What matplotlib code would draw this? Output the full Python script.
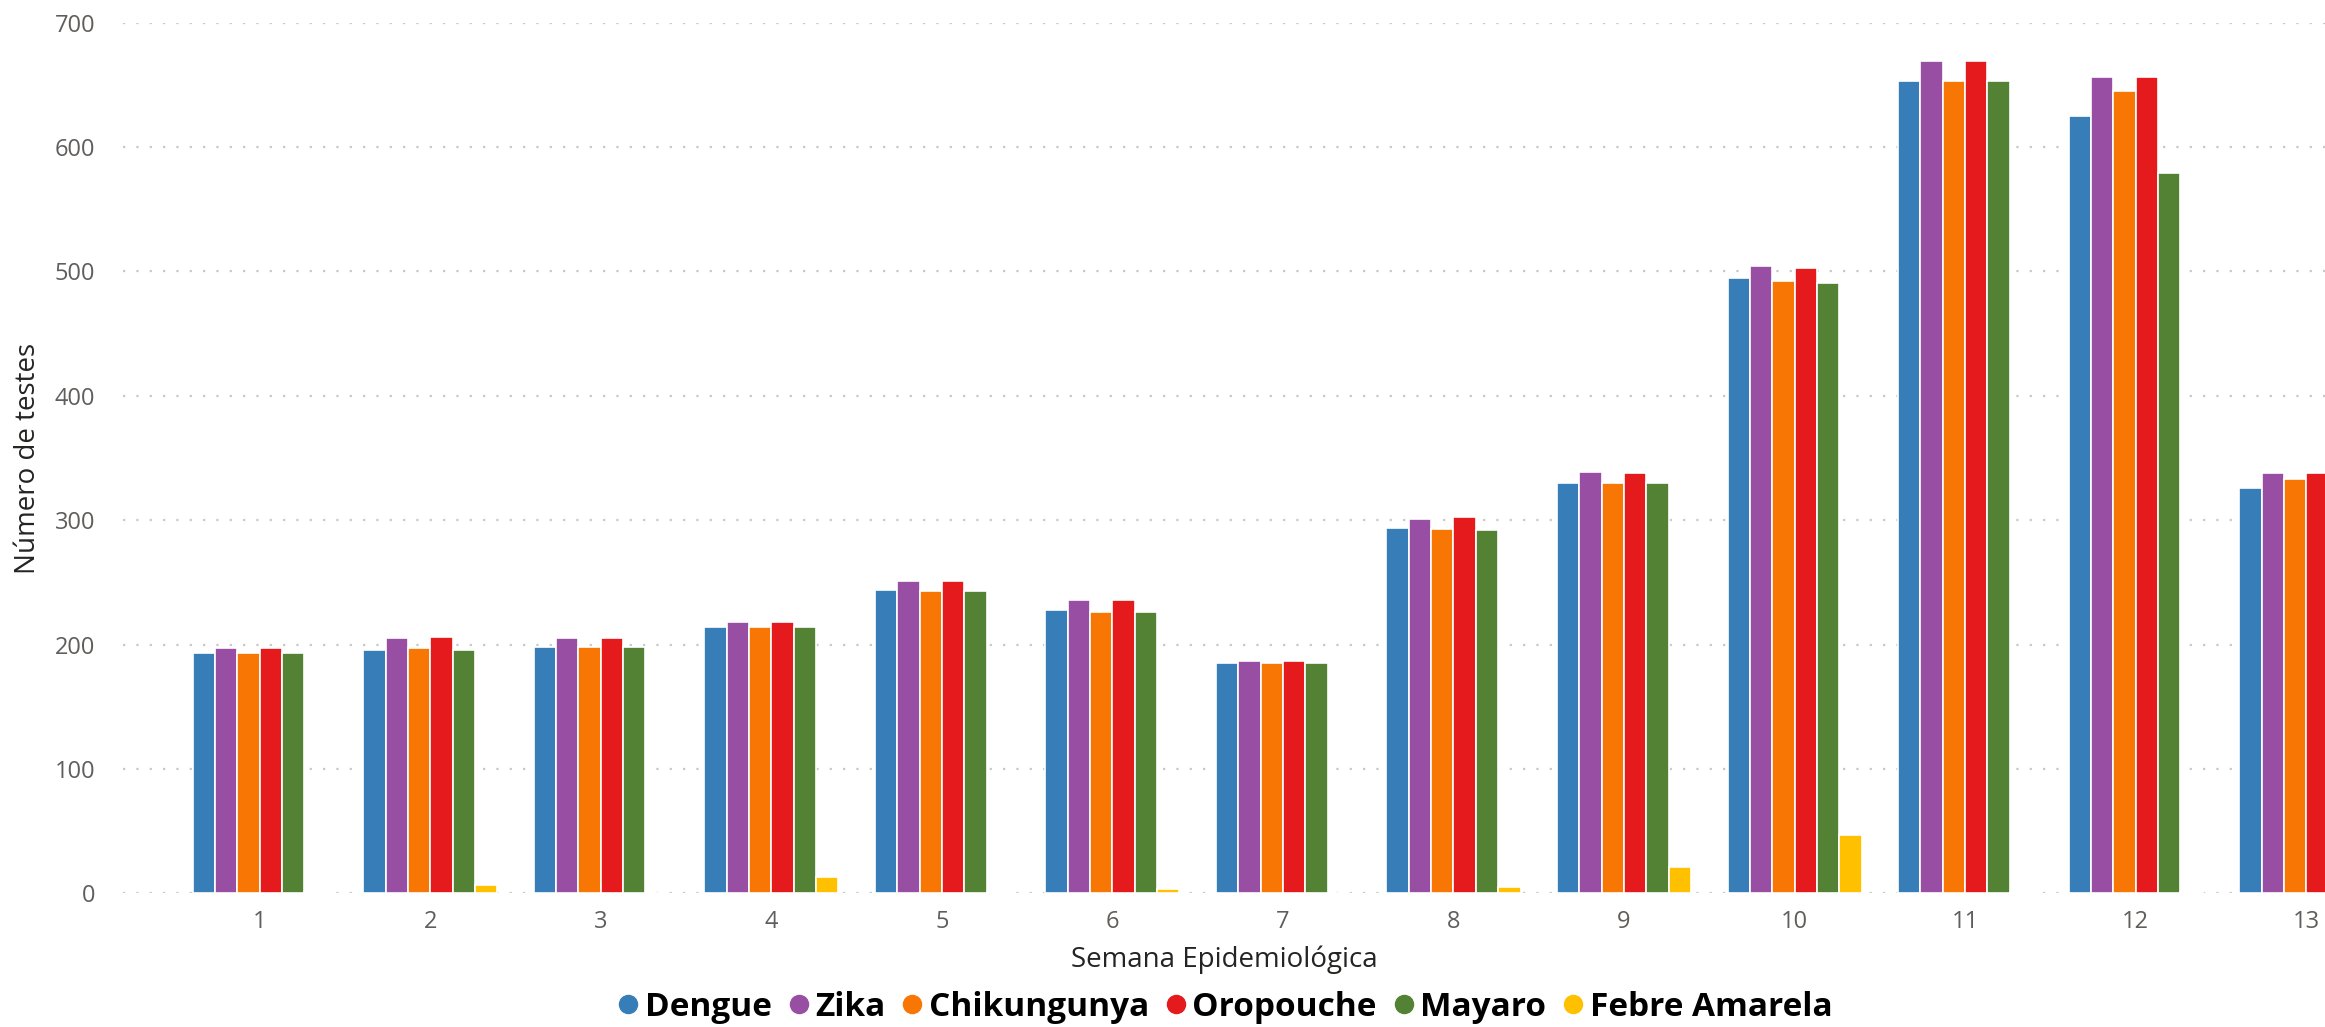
import numpy as np
import matplotlib.pyplot as plt
from matplotlib.lines import Line2D

plt.rcParams['font.family'] = ['Open Sans', 'DejaVu Sans']

weeks = list(range(1, 14))
series = ['Dengue', 'Zika', 'Chikungunya', 'Oropouche', 'Mayaro', 'Febre Amarela']
colors = ['#377eb8', '#984ea3', '#f87604', '#e41a1c', '#548235', '#ffc000']

dengue = [193, 196, 198, 214, 244, 228, 185, 294, 330, 495, 653, 625, 326]
zika = [197, 205, 205, 218, 251, 236, 187, 301, 339, 504, 669, 656, 338]
chikungunya = [193, 197, 198, 214, 243, 226, 185, 293, 330, 492, 653, 645, 333]
oropouche = [197, 206, 205, 218, 251, 236, 187, 303, 338, 503, 669, 656, 338]
mayaro = [193, 196, 198, 214, 243, 226, 185, 292, 330, 491, 653, 579, 326]
febre_amarela = [1, 7, 0, 13, 1, 4, 0, 5, 21, 47, 1, 1, 0]

values = [dengue, zika, chikungunya, oropouche, mayaro, febre_amarela]

fig = plt.figure(figsize=(23.25, 10.27), dpi=100)
ax = fig.add_axes([0.053, 0.130, 0.947, 0.848])

w = 0.131
x = np.array(weeks)
for i, (name, vals, c) in enumerate(zip(series, values, colors)):
    ax.bar(x + (i - 2.5) * w, vals, width=w, color=c, edgecolor='white',
           linewidth=1.2, label=name, zorder=3)

ax.set_xlim(0.2, 13.11)
ax.set_ylim(0, 700)
ax.set_yticks(range(0, 701, 100))
ax.set_xticks(weeks)
ax.yaxis.grid(True, color='#c8c8c8', linestyle=(0, (1, 5)), linewidth=1.6, zorder=0)
for s in ax.spines.values():
    s.set_visible(False)
ax.tick_params(axis='both', length=0, labelsize=17, labelcolor='#605e5c')
ax.tick_params(axis='y', pad=20)
ax.tick_params(axis='x', pad=12)

fig.text(28 / 2325, 1 - 458 / 1027, 'Número de testes', rotation=90,
         ha='center', va='center', fontsize=20, color='#252423')
ax.set_xlabel('Semana Epidemiológica', fontsize=20, color='#252423', labelpad=8)

handles = [Line2D([], [], marker='o', linestyle='', color=c, markersize=13) for c in colors]
fig.legend(handles, series, loc='center', bbox_to_anchor=(0.527, 0.019), ncol=6,
           frameon=False, handlelength=0.6, handletextpad=0.2, columnspacing=0.5,
           prop={'size': 24, 'weight': 'bold'})

fig.savefig('out.png', dpi=100)
